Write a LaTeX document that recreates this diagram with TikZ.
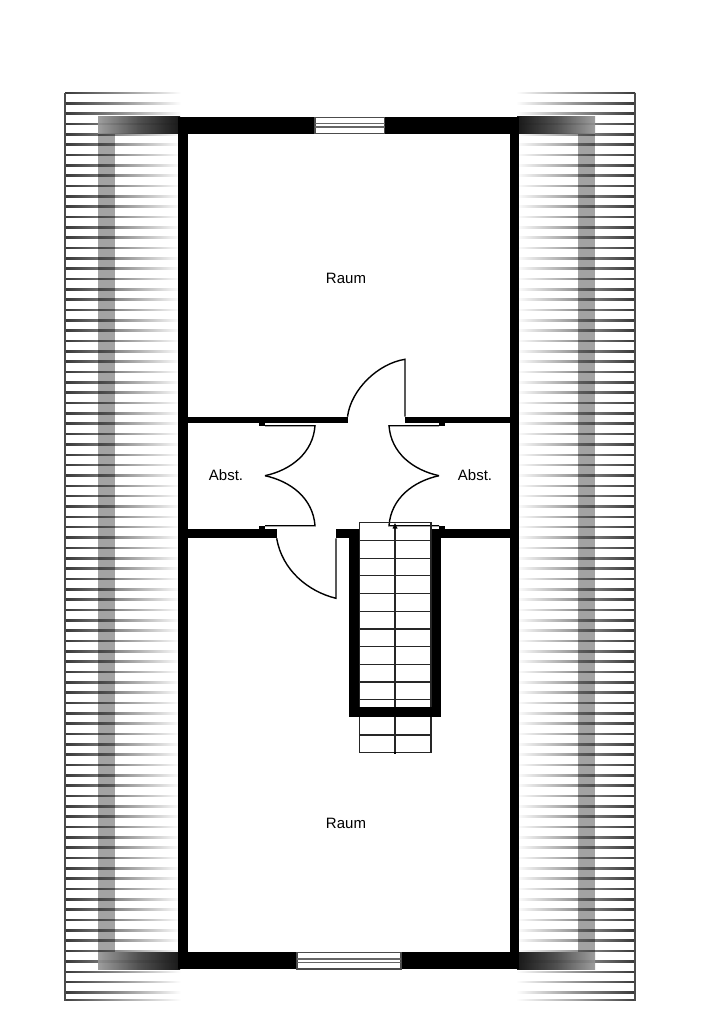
\documentclass[tikz,border=0pt]{standalone}
\usepackage{fontspec}
\setmainfont{Liberation Sans}
\tikzset{
	door/.style={line width=1.4pt, color=black},
	stairline/.style={line width=1.2pt, color=black!85},
	windowframe/.style={line width=1.2pt, draw=black!70, fill=white},
	windowline/.style={line width=1.1pt, color=black!60},
	roomlabel/.style={font=\fontsize{15}{18}\selectfont}
}
\begin{document}
\begin{tikzpicture}[x=1pt, y=-1pt]
		%%%%% ROOF %%%%%
		\useasboundingbox (0, 0) rectangle (724, 1024);
		\fill[white] (0, 0) rectangle (724, 1024);
		
		\foreach \n in {0,...,87} {
			\pgfmathsetmacro{\ypos}{92.9 + 10.34*\n}
			\shade[left color=black!78, right color=white, middle color=black!42] (65, \ypos-0.8) rectangle (181, \ypos+0.8);
			\shade[right color=black!78, left color=white, middle color=black!42] (516, \ypos-0.8) rectangle (635, \ypos+0.8);
		}
		\shade[left color=black!75, right color=white, middle color=black!35] (65, 999.5) rectangle (181, 1000.5);
		\shade[right color=black!75, left color=white, middle color=black!35] (516, 999.5) rectangle (635, 1000.5);
		\draw[line width=1.2pt, color=black!70] (65, 92.9) -- (65, 1000.5);
		\draw[line width=1.2pt, color=black!70] (635, 92.9) -- (635, 1000.5);
		
		%%%%% EAVES %%%%%
		\fill[black, opacity=0.36] (98, 134) rectangle (115, 952);
		\fill[black, opacity=0.36] (578, 134) rectangle (595, 952);
		\shade[left color=black!42, right color=black, middle color=black!76, opacity=0.9] (98, 117) rectangle (180, 134);
		\shade[left color=black!42, right color=black, middle color=black!76, opacity=0.9] (98, 952) rectangle (180, 969);
		\shade[right color=black!42, left color=black, middle color=black!76, opacity=0.9] (517, 117) rectangle (595, 134);
		\shade[right color=black!42, left color=black, middle color=black!76, opacity=0.9] (517, 952) rectangle (595, 969);
		
		%%%%% ROOMS %%%%%
		\fill[white] (188, 134) rectangle (509.5, 952);
		
		%%%%% WALLS %%%%%
		\fill[black] (178, 117) rectangle (519, 134);
		\fill[black] (178, 952) rectangle (519, 969);
		\fill[black] (178, 117) rectangle (188, 969);
		\fill[black] (509.5, 117) rectangle (519, 969);
		
		\fill[black] (188, 416.7) rectangle (347.7, 422.7);
		\fill[black] (405, 416.7) rectangle (510, 422.7);
		\fill[black] (259, 422) rectangle (265, 426);
		\fill[black] (439, 422) rectangle (444.5, 426);
		
		\fill[black] (188, 529) rectangle (276.7, 538.3);
		\fill[black] (336, 529) rectangle (350, 538.3);
		\fill[black] (440, 529) rectangle (510, 538.3);
		\fill[black] (259, 525.7) rectangle (265, 529);
		\fill[black] (439, 525.7) rectangle (444.5, 529);
		
		\fill[black] (349.3, 529) rectangle (359.5, 716.7);
		\fill[black] (430.5, 529) rectangle (441, 716.7);
		
		%%%%% WINDOWS %%%%%
		\draw[windowframe] (315, 117.7) rectangle (384.5, 133.7);
		\draw[windowline] (315, 123.5) -- (384.5, 123.5);
		\draw[windowline] (315, 127) -- (384.5, 127);
		\draw[windowframe] (297, 952.7) rectangle (401, 969);
		\draw[windowline] (297, 959) -- (401, 959);
		\draw[windowline] (297, 962.7) -- (401, 962.7);
		
		%%%%% DOORS %%%%%
		\draw[door] (405, 416.7) -- (405, 359.3) .. controls (378, 363.5) and (351, 389.5) .. (347.5, 416.7);
		\draw[door] (265, 425.7) -- (315, 425.7) .. controls (313, 453) and (291, 470) .. (265, 475.7);
		\draw[door] (265, 525.7) -- (315, 525.7) .. controls (313, 498.4) and (291, 481.4) .. (265, 475.7);
		\draw[door] (439, 425.7) -- (389, 425.7) .. controls (391, 453) and (413, 470) .. (439, 475.7);
		\draw[door] (439, 525.7) -- (389, 525.7) .. controls (391, 498.4) and (413, 481.4) .. (439, 475.7);
		\draw[door] (336, 538.3) -- (336, 598.3) .. controls (308, 591.5) and (282, 570) .. (276.7, 538.3);
		
		%%%%% STAIRS %%%%%
		\draw[stairline] (359.5, 707.5) -- (359.5, 522.7) -- (431, 522.7) -- (431, 707.5);
		\foreach \n in {1,...,10} {
			\draw[stairline] (359.5, 522.7+17.7*\n) -- (431, 522.7+17.7*\n);
		}
		\draw[stairline] (359.5, 716.7) rectangle (431, 752.8);
		\draw[stairline] (359.5, 735) -- (431, 735);
		\draw[stairline] (395, 752.8) -- (395, 527);
		\fill[black] (349.3, 707.3) rectangle (441, 716.7);
		\fill[black] (395, 523) -- (397.5, 528.5) -- (392.5, 528.5) -- cycle;
		\fill[black] (393.7, 751.5) rectangle (396.3, 754.2);
		
		%%%%% LABELS %%%%%
		\node[roomlabel] (raumoben) at (346, 278.5) {Raum};
		\node[roomlabel] (raumunten) at (346, 823.5) {Raum};
		\node[roomlabel] (abstlinks) at (226, 475.5) {Abst.};
		\node[roomlabel] (abstrechts) at (475, 475.5) {Abst.};
		
		%%%%% END %%%%%
	\end{tikzpicture}
\end{document}
